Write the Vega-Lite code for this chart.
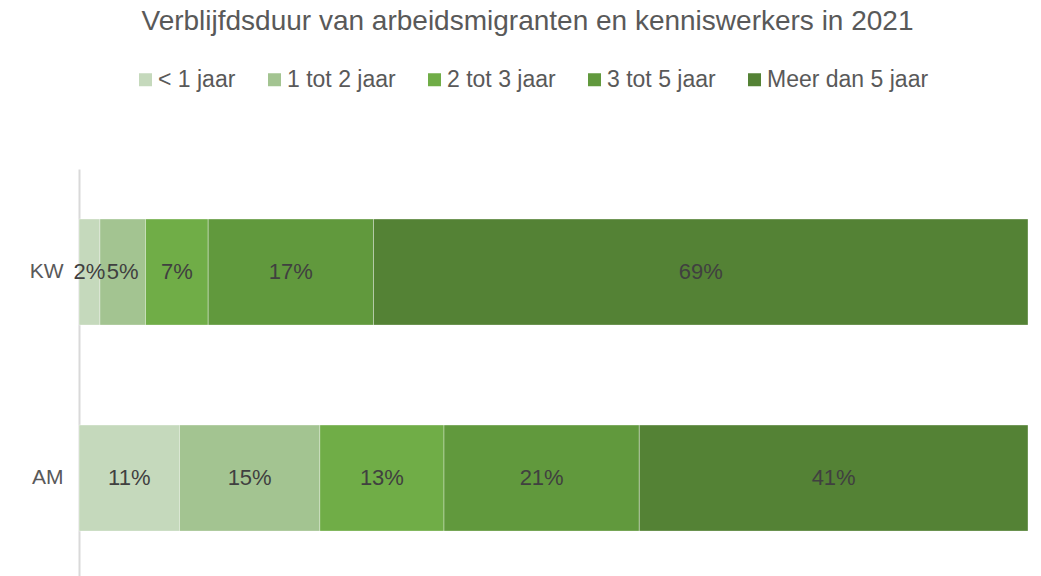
{
  "$schema": "https://vega.github.io/schema/vega-lite/v6.json",
  "autosize": "none",
  "padding": {"left": 79, "top": 169, "right": 13, "bottom": 0},
  "width": 949,
  "height": 407,
  "background": "white",
  "title": {
    "text": "Verblijfdsduur van arbeidsmigranten en kenniswerkers in 2021",
    "font": "Liberation Sans",
    "fontSize": 28,
    "fontWeight": "normal",
    "color": "#595959",
    "anchor": "middle",
    "baseline": "alphabetic",
    "offset": 10,
    "dx": -26
  },
  "data": {
    "values": [
      {"group": "KW", "duur": "< 1 jaar", "order": 1, "share": 0.022},
      {"group": "KW", "duur": "1 tot 2 jaar", "order": 2, "share": 0.048},
      {"group": "KW", "duur": "2 tot 3 jaar", "order": 3, "share": 0.066},
      {"group": "KW", "duur": "3 tot 5 jaar", "order": 4, "share": 0.174},
      {"group": "KW", "duur": "Meer dan 5 jaar", "order": 5, "share": 0.689},
      {"group": "AM", "duur": "< 1 jaar", "order": 1, "share": 0.106},
      {"group": "AM", "duur": "1 tot 2 jaar", "order": 2, "share": 0.148},
      {"group": "AM", "duur": "2 tot 3 jaar", "order": 3, "share": 0.131},
      {"group": "AM", "duur": "3 tot 5 jaar", "order": 4, "share": 0.206},
      {"group": "AM", "duur": "Meer dan 5 jaar", "order": 5, "share": 0.41}
    ]
  },
  "transform": [
    {"stack": "share", "groupby": ["group"], "sort": [{"field": "order", "order": "ascending"}], "offset": "normalize", "as": ["s0", "s1"]},
    {"calculate": "(datum.s0 + datum.s1) / 2", "as": "mid"}
  ],
  "encoding": {
    "y": {
      "field": "group",
      "type": "nominal",
      "sort": ["KW", "AM"],
      "title": null,
      "scale": {"paddingInner": 0.485, "paddingOuter": 0.2303, "align": 0.527},
      "axis": {
        "domainColor": "#D9D9D9",
        "domainWidth": 2,
        "ticks": false,
        "labelPadding": 16,
        "labelFont": "Liberation Sans",
        "labelFontSize": 21,
        "labelColor": "#595959",
        "grid": false
      }
    }
  },
  "layer": [
    {
      "mark": {"type": "bar", "stroke": "white", "strokeWidth": 1, "strokeOpacity": 0.35},
      "encoding": {
        "x": {"field": "s0", "type": "quantitative", "scale": {"domain": [0, 1], "nice": false}, "axis": null},
        "x2": {"field": "s1"},
        "color": {
          "field": "duur",
          "type": "nominal",
          "sort": ["< 1 jaar", "1 tot 2 jaar", "2 tot 3 jaar", "3 tot 5 jaar", "Meer dan 5 jaar"],
          "scale": {
            "domain": ["< 1 jaar", "1 tot 2 jaar", "2 tot 3 jaar", "3 tot 5 jaar", "Meer dan 5 jaar"],
            "range": ["#C5D9BC", "#A3C491", "#70AD47", "#61993D", "#548235"]
          },
          "legend": {
            "title": null,
            "orient": "none",
            "direction": "horizontal",
            "legendX": 55,
            "legendY": -101,
            "symbolType": "square",
            "symbolSize": 169,
            "symbolStrokeWidth": 0,
            "labelFont": "Liberation Sans",
            "labelFontSize": 23,
            "labelColor": "#595959",
            "labelOffset": 1,
            "columnPadding": 27,
            "labelLimit": 300
          }
        }
      }
    },
    {
      "mark": {"type": "text", "font": "Liberation Sans", "fontSize": 22, "color": "#404040", "align": "center", "baseline": "middle"},
      "encoding": {
        "x": {"field": "mid", "type": "quantitative"},
        "text": {"field": "share", "type": "quantitative", "format": ".0%"}
      }
    }
  ],
  "config": {"view": {"stroke": null}}
}
